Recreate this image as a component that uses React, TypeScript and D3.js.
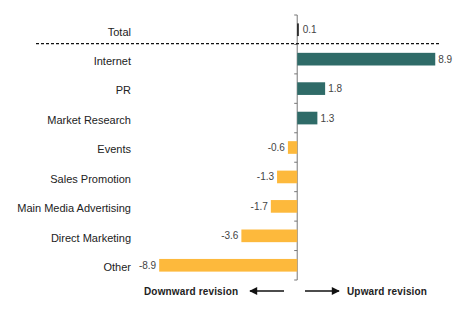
import React from "react";
import * as d3 from "d3";

const categories = ["Total", "Internet", "PR", "Market Research", "Events", "Sales Promotion", "Main Media Advertising", "Direct Marketing", "Other"];
const values = [0.1, 8.9, 1.8, 1.3, -0.6, -1.3, -1.7, -3.6, -8.9];
const valueLabels = ["0.1", "8.9", "1.8", "1.3", "-0.6", "-1.3", "-1.7", "-3.6", "-8.9"];
const xDomain = [-9.75, 9.4];

const W = 460, H = 324;
const TEAL = "#2F6B68";
const ORANGE = "#FDB93C";

export default function App() {
  const x = d3.scaleLinear().domain(xDomain).range([146, 443]);
  const y = d3.scaleBand<string>().domain(categories).range([15, 280]).padding(0);
  const bw = y.bandwidth();
  const barH = bw * 0.43;
  const x0 = x(0);
  const font = "Arial, 'Liberation Sans', sans-serif";
  const boundaries = categories.map((c) => y(c)!).concat([280]);
  const dashY = y(categories[1])! - 0.8;
  const arrowY = 291;

  return (
    <svg width={W} height={H} style={{ position: "absolute", left: 0, top: 0, background: "#fff" }}>
      <defs>
        <marker id="ah" viewBox="0 0 10 10" refX="9" refY="5" markerWidth="9" markerHeight="8" orient="auto" markerUnits="userSpaceOnUse">
          <path d="M0,0 L10,5 L0,10 z" fill="#111" />
        </marker>
      </defs>
      {/* axis */}
      <line x1={x0} x2={x0} y1={15} y2={280} stroke="#777" strokeWidth={1} />
      {boundaries.map((b, i) => (
        <line key={"t" + i} x1={x0 - 3} x2={x0} y1={b} y2={b} stroke="#777" strokeWidth={1} />
      ))}
      {/* dashed separator */}
      <line x1={36} x2={441} y1={dashY} y2={dashY} stroke="#111" strokeWidth={1.2} strokeDasharray="3,2" />
      {/* bars */}
      {categories.map((c, i) => {
        const v = values[i];
        const cy = y(c)! + bw / 2;
        const left = Math.min(x(v), x0);
        const w = Math.abs(x(v) - x0);
        const fill = i === 0 ? "#111" : v >= 0 ? TEAL : ORANGE;
        return (
          <g key={c}>
            <rect x={left} y={cy - barH / 2} width={Math.max(w, 1.5)} height={barH} fill={fill} />
            <text
              x={v >= 0 ? x(v) + (i === 0 ? 4 : 3) : x(v) - 3}
              y={cy}
              dy="0.35em"
              textAnchor={v >= 0 ? "start" : "end"}
              fontSize={10}
              fontFamily={font}
              fill="#444"
            >
              {valueLabels[i]}
            </text>
            <text x={131} y={cy + 2} dy="0.35em" textAnchor="end" fontSize={11} fontFamily={font} fill="#222">
              {c}
            </text>
          </g>
        );
      })}
      {/* bottom annotations */}
      <text x={144} y={arrowY} dy="0.35em" fontSize={10} fontWeight="bold" fontFamily={font} fill="#222" letterSpacing={0.15}>
        Downward revision
      </text>
      <line x1={284} x2={250} y1={arrowY} y2={arrowY} stroke="#111" strokeWidth={1.5} markerEnd="url(#ah)" />
      <line x1={305} x2={339} y1={arrowY} y2={arrowY} stroke="#111" strokeWidth={1.5} markerEnd="url(#ah)" />
      <text x={347} y={arrowY} dy="0.35em" fontSize={10} fontWeight="bold" fontFamily={font} fill="#222" letterSpacing={0.15}>
        Upward revision
      </text>
    </svg>
  );
}
